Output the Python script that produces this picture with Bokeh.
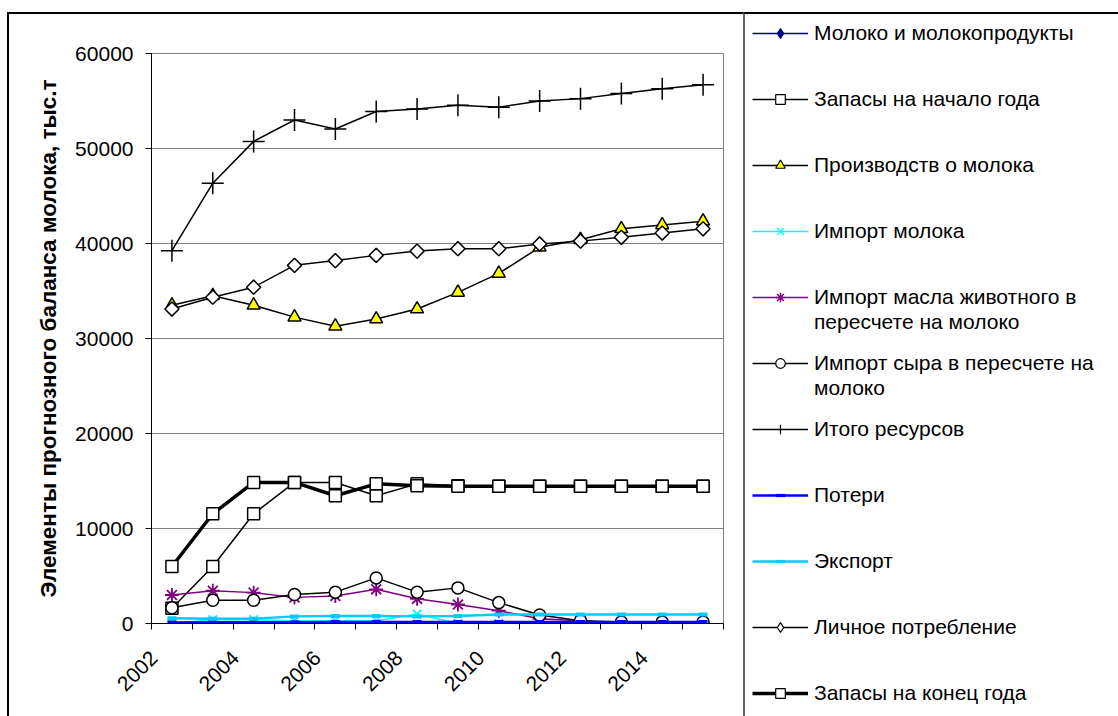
import numpy as np
from bokeh.plotting import figure
from bokeh.models import Legend, LegendItem, FixedTicker
from bokeh.embed import file_html
from bokeh.resources import INLINE

years = [2002, 2003, 2004, 2005, 2006, 2007, 2008, 2009, 2010, 2011, 2012, 2013, 2014, 2015]
tick_years = [2002, 2004, 2006, 2008, 2010, 2012, 2014]
tick_labels = ["2002", "2004", "2006", "2008", "2010", "2012", "2014"]

milk_products = [None] * 14
stock_begin = [1600, 6000, 11550, 14850, 14850, 13450, 14700, 14500, 14450, 14450, 14450, 14450, 14450, 14450]
production = [33500, 34500, 33500, 32250, 31300, 32050, 33100, 34850, 36850, 39600, 40400, 41550, 41950, 42350]
import_milk = [0, 400, 400, 300, 300, 300, 1000, 0, 0, 0, 0, 0, 0, 0]
import_butter = [3000, 3450, 3250, 2750, 2900, 3600, 2600, 2000, 1350, 500, 300, 50, 50, 50]
import_cheese = [1650, 2450, 2450, 3050, 3300, 4800, 3300, 3750, 2200, 900, 300, 150, 150, 150]
total_resources = [39250, 46350, 50750, 53000, 52050, 53900, 54150, 54550, 54350, 55000, 55250, 55800, 56300, 56700]
losses = [100, 120, 130, 140, 150, 150, 160, 160, 160, 160, 150, 150, 150, 150]
export = [550, 500, 500, 750, 800, 800, 750, 800, 950, 950, 950, 950, 950, 950]
personal = [33100, 34350, 35400, 37700, 38200, 38750, 39200, 39450, 39450, 39950, 40250, 40650, 41100, 41550]
stock_end = [6000, 11550, 14850, 14850, 13450, 14700, 14500, 14450, 14450, 14450, 14450, 14450, 14450, 14450]

# legend labels (a list per entry: first line, continuation lines)
labels = [
    ["Молоко и молокопродукты"],
    ["Запасы на начало года"],
    ["Производств о молока"],
    ["Импорт молока"],
    ["Импорт масла животного в", "пересчете на молоко"],
    ["Импорт сыра в пересчете на", "молоко"],
    ["Итого ресурсов"],
    ["Потери"],
    ["Экспорт"],
    ["Личное потребление"],
    ["Запасы на конец года"],
]

FONT = "Liberation Sans"
LABEL_SHIFT = 0.44  # rotated labels end left of the category centre, as in the original

p = figure(width=734, height=702, frame_width=572, frame_height=570,
           min_border_left=142, min_border_top=39,
           min_border_right=20, min_border_bottom=93,
           x_range=(2001.5, 2015.5), y_range=(0, 60000),
           output_backend="svg", toolbar_location=None,
           styles={"margin-left": "7px", "margin-top": "12px",
                   "border-left": "2px solid black", "border-top": "2px solid black"})
p.background_fill_color = "white"
p.border_fill_color = "white"
p.outline_line_color = "#808080"
p.outline_line_width = 1

p.xgrid.grid_line_color = None
p.ygrid.grid_line_color = "#808080"
p.ygrid.grid_line_width = 1

p.yaxis.ticker = FixedTicker(ticks=[0, 10000, 20000, 30000, 40000, 50000, 60000], minor_ticks=[])
p.yaxis.major_tick_out = 6
p.yaxis.major_tick_in = 0
p.yaxis.minor_tick_line_color = None
p.yaxis.major_label_text_font = FONT
p.yaxis.major_label_text_font_size = "21px"
p.yaxis.major_label_text_color = "black"
p.yaxis.major_label_standoff = 12
p.yaxis.axis_line_color = "black"
p.yaxis.major_tick_line_color = "black"
p.yaxis.axis_label = "Элементы прогнозного баланса молока, тыс.т"
p.yaxis.axis_label_text_font = FONT
p.yaxis.axis_label_text_font_size = "22.5px"
p.yaxis.axis_label_text_font_style = "bold"
p.yaxis.axis_label_text_color = "black"
p.yaxis.axis_label_standoff = 11

bounds = [y - 0.5 for y in years] + [years[-1] + 0.5]
label_pos = [t - LABEL_SHIFT for t in tick_years]
p.xaxis.ticker = FixedTicker(ticks=label_pos, minor_ticks=bounds)
p.xaxis.major_label_overrides = {pos: lab for pos, lab in zip(label_pos, tick_labels)}
p.xaxis.major_tick_line_color = None
p.xaxis.major_tick_out = 0
p.xaxis.major_tick_in = 0
p.xaxis.minor_tick_out = 6
p.xaxis.minor_tick_in = 0
p.xaxis.minor_tick_line_color = "black"
p.xaxis.axis_line_color = "black"
p.xaxis.major_label_orientation = np.pi / 4
p.xaxis.major_label_text_font = FONT
p.xaxis.major_label_text_font_size = "21px"
p.xaxis.major_label_text_color = "black"
p.xaxis.major_label_standoff = 25


def arr(v):
    return np.array([np.nan if x is None else x for x in v], dtype=float)


# values, line colour, line width, marker, size, angle, fill, marker line colour,
# legend marker, legend marker size
series = [
    (milk_products, "#000080", 1.5, "square", 9, np.pi / 4, "#000080", "#000080", "diamond", 10),
    (stock_begin, "black", 1.5, "square", 12, 0, "white", "black", "square", 7),
    (production, "black", 1.5, "triangle", 13, 0, "#FFFF00", "black", "triangle", 8),
    (import_milk, "#00FFFF", 1.5, "x", 12, 0, "#00FFFF", "#00FFFF", "x", 10),
    (import_butter, "#800080", 1.5, "asterisk", 14, 0, "#800080", "#800080", "asterisk", 11),
    (import_cheese, "black", 1.5, "circle", 12, 0, "white", "black", "circle", 7),
    (total_resources, "black", 1.5, "cross", 22, 0, "black", "black", "cross", 13),
    (losses, "#0000FF", 2.5, "dash", 9, 0, "#0000FF", "#0000FF", "dash", 7),
    (export, "#00CCFF", 2.5, "dash", 9, 0, "#00CCFF", "#00CCFF", "dash", 7),
    (personal, "black", 1.5, "square", 10, np.pi / 4, "white", "black", "diamond", 10),
    (stock_end, "black", 3.5, "square", 12, 0, "white", "black", "square", 8),
]

# legend panel: a separate canvas (own root) whose frame is the whole canvas
QW, QH = 373, 702
q = figure(width=QW, height=QH, frame_width=QW, frame_height=QH, min_border=0,
           x_axis_type=None, y_axis_type=None,
           x_range=(0, 1), y_range=(0, 1), output_backend="svg", toolbar_location=None,
           styles={"position": "absolute", "left": "743px", "top": "12px",
                   "border-left": "2px solid #666666", "border-top": "2px solid black"})
q.outline_line_color = None
q.grid.visible = False
q.background_fill_color = "white"
q.border_fill_color = "white"

blank = q.line([0], [np.nan], line_alpha=0)

entries = []
for (vals, color, lw, marker, size, ang, fill, mline, lmarker, lsize), lab in zip(series, labels):
    y = arr(vals)
    mlw = 4 if marker == "dash" else (1.8 if marker in ("x", "asterisk") else 1.5)
    p.line(years, y, line_color=color, line_width=lw)
    p.scatter(years, y, marker=marker, size=size, angle=ang, fill_color=fill,
              line_color=mline, line_width=mlw)
    l1 = q.line([0], [np.nan], line_color=color, line_width=lw)
    l2 = q.scatter([0], [np.nan], marker=lmarker, size=lsize, fill_color=fill,
                   line_color=mline, line_width=mlw * 0.8)
    its = [LegendItem(label=lab[0], renderers=[l1, l2])]
    for extra in lab[1:]:
        its.append(LegendItem(label=extra, renderers=[blank]))
    entries.append(its)

ROW_H = 24       # height of one legend line
PITCH = 66       # distance between legend entries
LINE_GAP = 1     # gap between wrapped lines of one entry
TOP0 = 7         # top of the first entry inside the legend canvas
GX = 7           # left of the legend glyphs

common = dict(label_text_font=FONT, label_text_font_size="21px", label_text_color="black",
              glyph_width=56, glyph_height=ROW_H, label_height=ROW_H,
              label_standoff=6, padding=0, margin=0,
              border_line_color=None, background_fill_alpha=0)

# consecutive single-line entries share one legend; wrapped entries get their own
groups = []
cur = []
for i, its in enumerate(entries):
    if len(its) == 1:
        cur.append((i, its))
    else:
        if cur:
            groups.append(cur)
            cur = []
        groups.append([(i, its)])
if cur:
    groups.append(cur)

for g in groups:
    first = g[0][0]
    top = TOP0 + first * PITCH
    if len(g) == 1 and len(g[0][1]) > 1:
        its = g[0][1]
        spacing = LINE_GAP
    else:
        its = [e[1][0] for e in g]
        spacing = PITCH - ROW_H
    height = len(its) * ROW_H + (len(its) - 1) * spacing
    lg = Legend(items=its, location=(GX, QH - top - height), spacing=spacing, **common)
    q.add_layout(lg)

open("out.html", "w").write(file_html([p, q], INLINE))
